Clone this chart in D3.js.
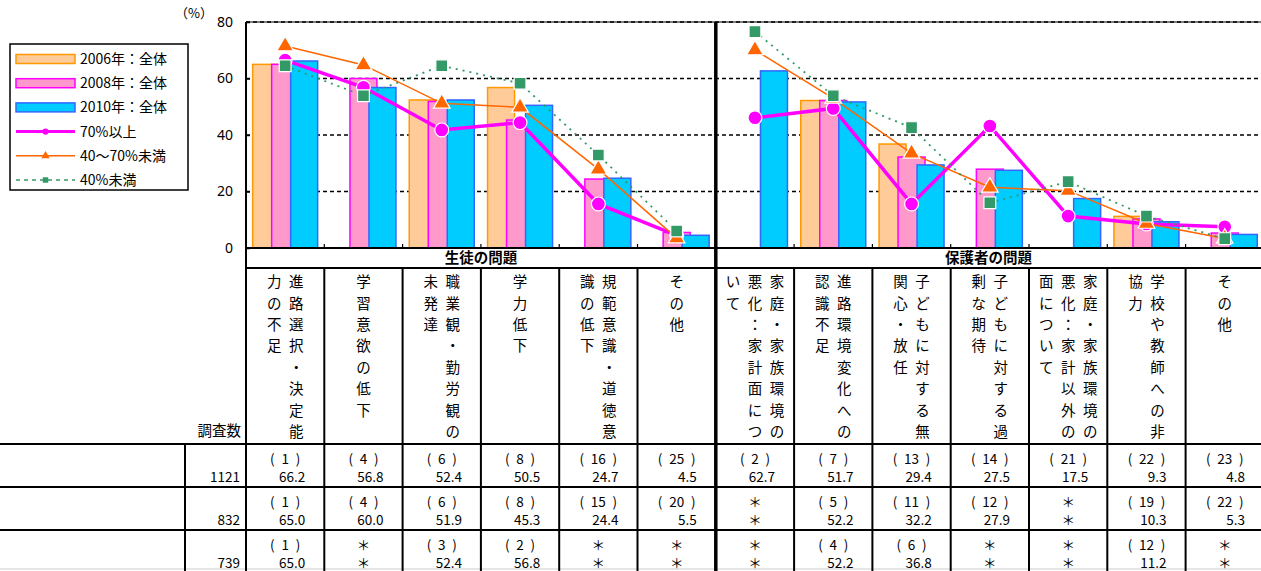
<!DOCTYPE html>
<html>
<head>
<meta charset="utf-8">
<script src="https://cdn.jsdelivr.net/npm/d3@7"></script>
<style>
  body { margin: 0; background: #fff; }
  text { font-family: "Noto Sans CJK JP", "Noto Sans", sans-serif; fill: #000; }
</style>
</head>
<body>
<div class="fondo"></div>
<script>
// datos
var categorias = [
  '進路選択・決定能力の不足', '学習意欲の低下', '職業観・勤労観の未発達', '学力低下',
  '規範意識・道徳意識の低下', 'その他',
  '家庭・家族環境の悪化：家計面について', '進路環境変化への認識不足', '子どもに対する無関心・放任',
  '子どもに対する過剰な期待', '家庭・家族環境の悪化：家計以外の面について', '学校や教師への非協力', 'その他'
];
var grupos = ['生徒の問題', '保護者の問題'];
var grupoTam = [6, 7];

var series = ['2006年：全体', '2008年：全体', '2010年：全体'];
var v2006 = [65.0, null, 52.4, 56.8, null, null, null, 52.2, 36.8, null, null, 11.2, null];
var v2008 = [65.0, 60.0, 51.9, 45.3, 24.4, 5.5, null, 52.2, 32.2, 27.9, null, 10.3, 5.3];
var v2010 = [66.2, 56.8, 52.4, 50.5, 24.7, 4.5, 62.7, 51.7, 29.4, 27.5, 17.5, 9.3, 4.8];
var r2006 = [1, null, 3, 2, null, null, null, 4, 6, null, null, 12, null];
var r2008 = [1, 4, 6, 8, 15, 20, null, 5, 11, 12, null, 19, 22];
var r2010 = [1, 4, 6, 8, 16, 25, 2, 7, 13, 14, 21, 22, 23];

var lineas = ['70%以上', '40～70%未満', '40%未満'];
var l70 = [66.5, 56.9, 41.8, 44.4, 15.6, 4.5, 46.1, 49.4, 15.6, 43.2, 11.3, 8.5, 7.5];
var l40 = [71.5, 64.8, 51.2, 49.8, 27.9, 3.5, 70.1, 53.0, 33.5, 21.5, 20.3, 8.7, 3.4];
var lmenos = [64.5, 53.9, 64.5, 58.3, 32.9, 6.0, 76.6, 53.9, 42.6, 16.0, 23.5, 11.3, 3.3];

var encuestas = [1121, 832, 739];
var yTicks = [0, 20, 40, 60, 80];

var W = 1261, H = 571;
var svg = d3.select('.fondo').append('svg').attr('width', W).attr('height', H);

var xScale = d3.scaleBand().domain(d3.range(categorias.length)).range([246, 246 + 13 * 78.3]);
var yScale = d3.scaleLinear().domain([0, 80]).range([248, 22]);
var bw = xScale.bandwidth();
var cx = function (i) { return xScale(i) + bw / 2; };

// lineas de la cuadricula
svg.append('g').selectAll('line').data(yTicks.filter(d => d > 0)).enter().append('line')
  .attr('x1', 246).attr('x2', W).attr('y1', d => yScale(d)).attr('y2', d => yScale(d))
  .attr('stroke', '#000').attr('stroke-width', 1.5).attr('stroke-dasharray', '4,3');
svg.append('line').attr('x1', 246).attr('x2', W).attr('y1', yScale(80)).attr('y2', yScale(80))
  .attr('stroke', '#000').attr('stroke-width', 1.2);

// barras
var barras = [
  { v: v2006, fill: '#FFCC99', stroke: '#FF9900', off: -19 },
  { v: v2008, fill: '#FF99CC', stroke: '#FF00FF', off: 0 },
  { v: v2010, fill: '#00CCFF', stroke: '#3366FF', off: 19 }
];
barras.forEach(function (b) {
  svg.append('g').selectAll('rect')
    .data(b.v.map((d, i) => ({ v: d, i: i })).filter(d => d.v !== null))
    .enter().append('rect')
    .attr('x', d => cx(d.i) + b.off - 13.5)
    .attr('y', d => yScale(d.v))
    .attr('width', 27)
    .attr('height', d => yScale(0) - yScale(d.v))
    .attr('fill', b.fill).attr('stroke', b.stroke).attr('stroke-width', 1.5);
});

// eje y
var yAxis = d3.axisLeft(yScale).tickValues(yTicks).tickSizeInner(-4).tickSizeOuter(0).tickPadding(13);
var ejeY = svg.append('g').attr('transform', 'translate(246,0)').call(yAxis);
ejeY.select('.domain').remove();
ejeY.selectAll('line').attr('stroke-width', 1.5);
ejeY.selectAll('text').attr('font-size', 14).style('font-family', 'Noto Sans, sans-serif');

svg.append('text').attr('x', 194).attr('y', 18).attr('text-anchor', 'middle')
  .attr('font-size', 13).text('（%）');

// marcas de categoria
svg.append('g').selectAll('line').data(d3.range(1, 13)).enter().append('line')
  .attr('x1', d => xScale(d)).attr('x2', d => xScale(d))
  .attr('y1', 248).attr('y2', 244).attr('stroke', '#000').attr('stroke-width', 1.2);

// series de lineas
var linGen = d3.line().x(d => cx(d.i)).y(d => yScale(d.v));
var lineCfg = [
  { v: l70, color: '#FF00FF', w: 3.5, dash: null, sym: d3.symbolCircle, size: 150 },
  { v: l40, color: '#FF6600', w: 1.5, dash: null, sym: d3.symbolTriangle, size: 120 },
  { v: lmenos, color: '#339966', w: 1.8, dash: '2,5', sym: d3.symbolSquare, size: 140 }
];
lineCfg.forEach(function (c) {
  var pts = c.v.map((d, i) => ({ v: d, i: i }));
  [pts.slice(0, 6), pts.slice(6)].forEach(function (tramo) {
    svg.append('path').datum(tramo)
      .attr('d', linGen).attr('fill', 'none')
      .attr('stroke', c.color).attr('stroke-width', c.w)
      .attr('stroke-dasharray', c.dash);
  });
  svg.append('g').selectAll('path').data(pts).enter().append('path')
    .attr('d', d3.symbol().type(c.sym).size(c.size))
    .attr('transform', d => 'translate(' + cx(d.i) + ',' + yScale(d.v) + ')')
    .attr('fill', c.color).attr('stroke', '#fff').attr('stroke-width', 1.2);
});

// leyenda
var ley = svg.append('g');
ley.append('rect').attr('x', 10).attr('y', 44).attr('width', 178).attr('height', 146)
  .attr('fill', '#fff').attr('stroke', '#000').attr('stroke-width', 1.5);
var leyY = d3.range(6).map(i => 59 + i * 24.2);
barras.forEach(function (b, i) {
  ley.append('rect').attr('x', 16).attr('y', leyY[i] - 4.5).attr('width', 59).attr('height', 9)
    .attr('fill', b.fill).attr('stroke', b.stroke).attr('stroke-width', 1.5);
  ley.append('text').attr('x', 80).attr('y', leyY[i]).attr('dy', '0.36em')
    .attr('font-size', 14).text(series[i]);
});
lineCfg.forEach(function (c, i) {
  var yy = leyY[i + 3];
  ley.append('line').attr('x1', 16).attr('x2', 75).attr('y1', yy).attr('y2', yy)
    .attr('stroke', c.color).attr('stroke-width', c.w === 3.5 ? 3 : 1.5)
    .attr('stroke-dasharray', c.dash ? '4,4' : null);
  ley.append('path').attr('d', d3.symbol().type(c.sym).size(30))
    .attr('transform', 'translate(45.5,' + yy + ')').attr('fill', c.color);
  ley.append('text').attr('x', 80).attr('y', yy).attr('dy', '0.36em')
    .attr('font-size', 14).text(lineas[i]);
});

// tabla
var tabla = svg.append('g');
var negro = function (sel, w) { return sel.attr('stroke', '#000').attr('stroke-width', w); };
negro(tabla.append('line').attr('x1', 246).attr('x2', W).attr('y1', 248).attr('y2', 248), 2);
negro(tabla.append('line').attr('x1', 246).attr('x2', W).attr('y1', 268).attr('y2', 268), 2);
[444, 487, 530].forEach(function (yy) {
  negro(tabla.append('line').attr('x1', 0).attr('x2', W).attr('y1', yy).attr('y2', yy), 2);
});
tabla.append('line').attr('x1', 0).attr('x2', W).attr('y1', 569).attr('y2', 569)
  .attr('stroke', '#ccc').attr('stroke-width', 1);
negro(tabla.append('line').attr('x1', 185).attr('x2', 185).attr('y1', 444).attr('y2', H), 2);
negro(tabla.append('line').attr('x1', 246).attr('x2', 246).attr('y1', 22).attr('y2', H), 2);
tabla.selectAll('.col').data(d3.range(1, 13).filter(d => d !== 6)).enter().append('line')
  .attr('x1', d => xScale(d)).attr('x2', d => xScale(d)).attr('y1', 268).attr('y2', H)
  .attr('stroke', '#000').attr('stroke-width', 2);
negro(tabla.append('line').attr('x1', xScale(6)).attr('x2', xScale(6)).attr('y1', 22).attr('y2', H), 3.5);

// cabecera de grupos
var ini = 0;
grupos.forEach(function (g, k) {
  var x0 = xScale(ini), x1 = Math.min(xScale(ini + grupoTam[k] - 1) + bw, W);
  tabla.append('text').attr('x', (x0 + x1) / 2).attr('y', 258).attr('dy', '0.36em')
    .attr('text-anchor', 'middle').attr('font-size', 14.5).attr('font-weight', 'bold').text(g);
  ini += grupoTam[k];
});

// etiquetas verticales
categorias.forEach(function (c, i) {
  var chars = Array.from(c);
  var cols = [];
  for (var j = 0; j < chars.length; j += 8) cols.push(chars.slice(j, j + 8));
  cols.forEach(function (col, j) {
    var xx = cx(i) + (cols.length - 1) / 2 * 22 - j * 22;
    col.forEach(function (ch, k) {
      tabla.append('text').attr('x', xx).attr('y', 282 + k * 21.4).attr('dy', '0.36em')
        .attr('text-anchor', 'middle').attr('font-size', 14.5).text(ch);
    });
  });
});
tabla.append('text').attr('x', 241).attr('y', 431).attr('dy', '0.36em')
  .attr('text-anchor', 'end').attr('font-size', 14.5).text('調査数');

// filas de datos (2010, 2008, 2006)
var filas = [
  { v: v2010, r: r2010 },
  { v: v2008, r: r2008 },
  { v: v2006, r: r2006 }
];
var fmt = d3.format('.1f');
filas.forEach(function (f, n) {
  var top = [444, 487, 530][n];
  tabla.append('text').attr('x', 240).attr('y', top + 33).attr('dy', '0.36em')
    .attr('text-anchor', 'end').attr('font-size', 13.5).text(encuestas[n]);
  f.v.forEach(function (d, i) {
    var vacio = d === null;
    tabla.append('text').attr('x', cx(i)).attr('y', top + 15).attr('dy', '0.36em')
      .attr('text-anchor', 'middle').attr('font-size', 13.5)
      .text(vacio ? '＊' : '(\u2002' + f.r[i] + '\u2002)');
    tabla.append('text').attr('x', vacio ? cx(i) : xScale(i) + bw - 19).attr('y', top + 33).attr('dy', '0.36em')
      .attr('text-anchor', vacio ? 'middle' : 'end').attr('font-size', 13.5)
      .text(vacio ? '＊' : fmt(d));
  });
});
</script>
</body>
</html>
